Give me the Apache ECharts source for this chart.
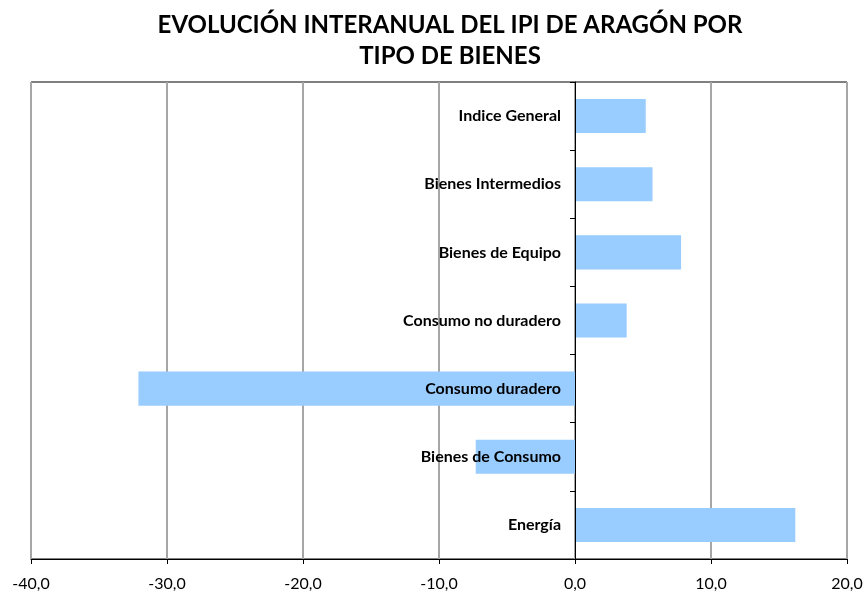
<!DOCTYPE html>
<html>
<head>
<meta charset="utf-8">
<script src="https://cdn.jsdelivr.net/npm/echarts@6/dist/echarts.min.js"></script>
<style>
  html, body { margin: 0; padding: 0; background: #fff; }
  #chart { width: 867px; height: 599px; }
</style>
</head>
<body>
<div id="chart"></div>
<script>
// categorias de arriba a abajo
var categories = ["Indice General", "Bienes Intermedios", "Bienes de Equipo",
  "Consumo no duradero", "Consumo duradero", "Bienes de Consumo", "Energía"];
var values = [5.2, 5.7, 7.8, 3.8, -32.1, -7.3, 16.2];
var xTicks = [-40, -30, -20, -10, 0, 10, 20];

var gridLeft = 31, gridRight = 20;
var plotW = 867 - gridLeft - gridRight;
// posicion del eje vertical en el 0 (los rotulos van con el)
var zeroOffset = -plotW * (0 - xTicks[0]) / (xTicks[xTicks.length - 1] - xTicks[0]);

var myChart = echarts.init(document.getElementById("chart"));
var opt = {
  animation: false,
  title: {
    text: "EVOLUCIÓN INTERANUAL DEL IPI DE ARAGÓN POR\nTIPO DE BIENES",
    left: 445,
    textAlign: "center",
    top: 5,
    textStyle: {
      fontFamily: "Lato",
      fontWeight: "bold",
      fontSize: 24,
      lineHeight: 31,
      color: "#000"
    }
  },
  grid: {
    left: gridLeft,
    right: gridRight,
    top: 82,
    bottom: 40,
    show: true,
    borderColor: "#000",
    borderWidth: 1,
    containLabel: false,
    outerBoundsMode: "none"
  },
  xAxis: {
    type: "value",
    min: xTicks[0],
    max: xTicks[xTicks.length - 1],
    interval: 10,
    axisLine: { show: true, lineStyle: { color: "#000", width: 1 } },
    axisTick: { show: true, length: 5, lineStyle: { color: "#000" } },
    splitLine: { show: true, lineStyle: { color: "#a6a6a6", width: 2 } },
    axisLabel: {
      margin: 17,
      fontFamily: "Lato",
      fontSize: 16,
      color: "#000",
      formatter: function (v) { return v.toFixed(1).replace(".", ","); }
    }
  },
  yAxis: {
    type: "category",
    inverse: true,
    data: categories,
    offset: zeroOffset,
    axisLine: { show: true, onZero: false, lineStyle: { color: "#000", width: 1 } },
    axisTick: { show: true, length: 5, lineStyle: { color: "#000" } },
    axisLabel: {
      margin: 14,
      fontFamily: "Lato",
      fontWeight: "bold",
      fontSize: 16,
      color: "#000"
    },
    z: 5
  },
  series: [
    {
      type: "bar",
      data: values,
      barCategoryGap: "50%",
      itemStyle: { color: "#99ccff" },
      z: 2
    }
  ]
};
myChart.setOption(opt);
</script>
</body>
</html>
